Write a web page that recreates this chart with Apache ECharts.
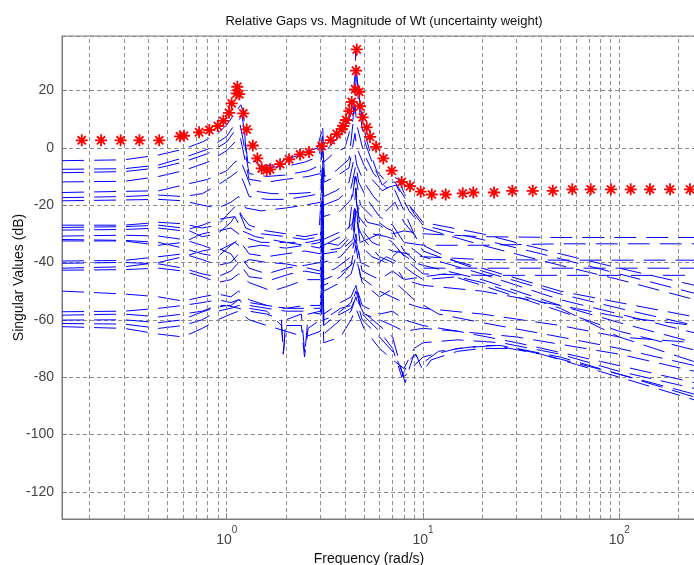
<!DOCTYPE html>
<html>
<head>
<meta charset="utf-8">
<script src="https://cdn.jsdelivr.net/npm/echarts@6/dist/echarts.min.js"></script>
<style>
html,body{margin:0;padding:0;background:#fff;}
#chart{width:694px;height:565px;}
</style>
</head>
<body>
<div id="chart"></div>
<script>
// ---------------- data ----------------
const titleText = 'Relative Gaps vs. Magnitude of Wt (uncertainty weight)';
const xLabelText = 'Frequency (rad/s)';
const yLabelText = 'Singular Values (dB)';

const gridFreqs = [0.2,0.3,0.4,0.5,0.6,0.7,0.8,0.9,1,2,3,4,5,6,7,8,9,10,20,30,40,50,60,70,80,90,100,200];

// red stars: relative gap magnitude of Wt
const starFreq = [0.1825,0.229,0.288,0.359,0.453,0.578,0.606,0.723,0.815,0.900,0.961,1.027,1.060,1.124,1.132,1.159,1.215,1.264,1.357,1.432,1.508,1.599,1.662,1.869,2.077,2.363,2.627,3.048,3.387,3.635,3.853,3.926,4.053,4.213,4.333,4.504,4.557,4.595,4.737,4.775,4.930,5.167,5.370,5.764,6.279,6.927,7.790,8.587,9.734,11.08,13.05,15.93,18.04,23.0,28.5,36.2,45.8,57.6,71.5,90.7,114.3,143.3,181.3,229.1];
const starDb = [2.6,2.6,2.6,2.6,2.6,4.0,4.2,5.4,6.2,7.6,9.4,12.2,15.5,19.0,21.3,18.7,12.0,6.4,0.8,-3.7,-7.2,-7.8,-7.5,-5.7,-4.0,-2.3,-1.5,0.6,2.7,4.8,6.5,7.6,9.7,12.8,16.0,20.4,26.9,34.3,19.5,14.5,10.6,7.1,3.8,0.35,-3.7,-8.0,-11.9,-13.4,-15.3,-16.3,-16.3,-15.9,-15.6,-15.6,-15.0,-15.0,-15.0,-14.5,-14.5,-14.5,-14.5,-14.5,-14.5,-14.5];

// blue singular value curves [frequency rad/s, dB]
const sv01 = [[0.145,-4.5],[0.3,-4.2],[0.45,-2.5],[0.6,-0.5],[0.75,2],[0.9,5],[1.0,8],[1.1,12],[1.18,15],[1.22,12],[1.25,-1],[1.3,-3],[1.5,-6.5],[1.7,-6],[2,-4],[2.5,-2],[2.9,0],[3.05,6],[3.08,8],[3.12,-2],[3.5,2],[4,6],[4.3,12],[4.5,25],[4.55,35],[4.62,24],[4.8,14],[5.1,4],[5.4,-2],[5.8,-8],[6.5,-12],[7.2,-12],[8,-17],[9,-23],[10,-27],[15,-30],[20,-32],[40,-37],[100,-44],[243,-50.8]];
const sv02 = [[0.145,-7.5],[0.3,-7.3],[0.45,-6],[0.6,-3.5],[0.8,-0.5],[1.0,4],[1.12,9],[1.2,11],[1.23,5],[1.28,-5],[1.5,-7],[2,-6.5],[2.5,-5],[2.95,-3],[3.07,4],[3.12,-5],[3.5,-2],[4,0],[4.4,10],[4.55,28],[4.7,15],[5,3],[5.5,-5],[6.2,-13],[7,-10],[7.5,-11],[8.5,-20],[10,-26],[20,-30],[50,-37],[100,-42],[243,-48]];
const sv03 = [[0.145,-8.7],[0.3,-8.3],[0.45,-7],[0.6,-5],[0.8,-2],[1.0,2],[1.1,6],[1.17,8],[1.21,3],[1.3,-9],[1.6,-10],[2,-9.5],[2.6,-8],[3.0,-6],[3.08,2],[3.15,-10],[3.6,-8],[4.2,-4],[4.5,15],[4.6,8],[5,-2],[5.6,-9],[6.5,-14],[7.3,-13],[8.5,-22],[10,-28],[20,-34],[50,-41],[100,-46],[243,-53]];
const sv04 = [[0.145,-11.9],[0.3,-11.7],[0.45,-10],[0.6,-8],[0.8,-5],[1.0,-1],[1.1,2],[1.17,4],[1.22,-2],[1.3,-11],[1.6,-12],[2,-11],[2.6,-10],[3.0,-9],[3.08,0],[3.13,-12],[3.6,-10],[4.2,-7],[4.5,5],[4.6,0],[5,-6],[5.5,-11],[6.2,-15],[7,-13],[8,-22],[9,-30],[10,-36],[12,-38],[20,-42],[50,-50],[100,-54],[243,-59]];
const sv05 = [[0.145,-15.6],[0.3,-15.2],[0.45,-15],[0.6,-13],[0.8,-11],[1.0,-8],[1.1,-5],[1.17,-4],[1.25,-9],[1.35,-15],[1.7,-16],[2.2,-16],[2.8,-15.5],[3.05,-14],[3.08,-4],[3.12,-17],[3.6,-15],[4.2,-12],[4.5,-2],[4.6,-6],[5,-12],[5.6,-17],[6.5,-22],[7.2,-19],[8,-26],[10,-34],[15,-40],[20,-43],[50,-51],[100,-56],[243,-62]];
const sv06 = [[0.145,-17.4],[0.3,-17],[0.45,-16.5],[0.6,-17],[0.75,-16],[0.9,-13],[1.05,-10],[1.15,-8],[1.22,-12],[1.3,-17],[1.6,-18],[2,-18],[2.5,-17],[3.0,-16],[3.08,-6],[3.12,-20],[3.7,-18],[4.3,-14],[4.55,-6],[4.7,-12],[5.2,-18],[6,-24],[7,-27],[8,-33],[10,-38],[20,-44],[50,-53],[100,-58],[243,-64.6]];
const sv07 = [[0.145,-18.5],[0.3,-18.2],[0.45,-18],[0.6,-18.5],[0.75,-20],[0.9,-21],[1.05,-19],[1.15,-17],[1.25,-21],[1.5,-22],[2,-21],[2.5,-20],[3,-19],[3.08,-10],[3.12,-24],[3.8,-22],[4.3,-18],[4.55,-10],[4.8,-20],[5.5,-24],[6.5,-28],[7,-29],[8,-36],[10,-42],[20,-42],[50,-42],[100,-42],[243,-42]];
const sv08 = [[0.145,-27],[0.3,-27],[0.45,-26],[0.6,-26.5],[0.75,-28],[0.9,-27],[1.05,-22],[1.12,-20],[1.2,-24],[1.3,-27],[1.6,-29],[2,-30],[2.5,-31],[2.95,-30],[3.06,-12],[3.1,-32],[3.6,-30],[4.2,-28],[4.5,-10],[4.6,-20],[5.2,-26],[6,-27],[7,-30],[8,-29],[10,-30],[20,-31],[50,-31.3],[100,-31.3],[243,-31.3]];
const sv09 = [[0.145,-27.8],[0.3,-27.5],[0.45,-27],[0.6,-28],[0.75,-31],[0.9,-30],[1.05,-26],[1.15,-22],[1.25,-28],[1.5,-30],[2,-31],[2.5,-32],[3.0,-31],[3.08,-20],[3.12,-34],[3.8,-31],[4.4,-26],[4.55,-14],[4.7,-24],[5.5,-30],[6.5,-31],[8,-33],[10,-34],[20,-34],[50,-33.5],[243,-33.5]];
const sv10 = [[0.145,-28.7],[0.3,-28.5],[0.45,-28],[0.6,-29],[0.75,-27],[0.9,-25],[1.1,-24],[1.2,-29],[1.4,-31],[2,-33],[2.6,-33],[3.0,-32],[3.08,-8],[3.12,-33],[3.7,-34],[4.3,-30],[4.55,-18],[4.8,-28],[5.5,-33],[7,-36],[10,-38],[20,-39],[50,-39.2],[243,-39.2]];
const sv11 = [[0.145,-30.8],[0.3,-30.5],[0.45,-30.8],[0.6,-32],[0.75,-34],[0.9,-36],[1.1,-33],[1.2,-35],[1.5,-34],[2,-35],[2.5,-34],[3.0,-33],[3.08,-15],[3.12,-36],[3.8,-35],[4.4,-30],[4.55,-20],[4.8,-33],[6,-30],[7,-33],[8.5,-40],[10,-44],[20,-44.5],[50,-44.5],[243,-44.5]];
const sv12 = [[0.145,-32],[0.3,-32.3],[0.45,-33],[0.6,-35],[0.75,-37],[0.9,-38],[1.05,-34],[1.15,-32],[1.3,-37],[1.6,-38],[2,-37],[2.5,-36],[3.0,-37],[3.08,-22],[3.12,-40],[3.8,-38],[4.4,-33],[4.55,-22],[4.8,-34],[5.5,-38],[6.5,-40],[7.5,-36],[9,-40],[10,-41],[20,-46],[50,-55],[100,-61],[243,-68]];
const sv13 = [[0.145,-32.5],[0.3,-32.5],[0.45,-34],[0.6,-33],[0.75,-30],[0.9,-29],[1.05,-28],[1.2,-31],[1.5,-33],[2,-33],[2.5,-34],[3,-35],[3.08,-25],[3.12,-37],[3.8,-36],[4.4,-32],[4.55,-26],[5,-32],[6,-38],[7,-40],[8,-46],[10,-45],[13,-44],[20,-48],[50,-57],[100,-64],[243,-70.6]];
const sv14 = [[0.145,-39.5],[0.3,-39.3],[0.45,-38],[0.6,-37],[0.75,-39],[0.9,-41],[1.05,-40],[1.15,-37],[1.3,-42],[1.6,-44],[2,-42],[2.5,-41],[3,-40],[3.08,-30],[3.12,-44],[3.6,-42],[4.3,-38],[4.55,-30],[4.8,-40],[5.5,-42],[6.5,-38],[7.5,-40],[9,-44],[10,-46],[15,-45],[20,-47],[50,-56],[100,-66],[243,-74.7]];
const sv15 = [[0.145,-40.3],[0.3,-40],[0.45,-40.5],[0.6,-42],[0.75,-44],[0.9,-45],[1.05,-43],[1.15,-40],[1.3,-45],[1.7,-46],[2.1,-44],[2.5,-43],[3,-44],[3.08,-35],[3.12,-48],[3.8,-45],[4.4,-40],[4.55,-34],[4.8,-45],[6,-50],[8,-54],[10,-56],[20,-58],[50,-62],[100,-66],[243,-68]];
const sv16 = [[0.145,-42],[0.3,-41.5],[0.45,-40],[0.6,-38],[0.75,-36],[0.9,-35],[1.05,-37],[1.15,-41],[1.3,-39],[1.6,-40],[2,-40.5],[2.6,-42],[3,-43],[3.08,-28],[3.12,-46],[3.7,-44],[4.3,-41],[4.55,-32],[4.9,-43],[6,-46],[7,-43],[8,-46],[10,-48],[20,-50],[50,-55],[100,-59],[243,-62]];
const sv17 = [[0.145,-42.7],[0.3,-42.5],[0.45,-42],[0.6,-43],[0.75,-45],[0.9,-47],[1.05,-46],[1.15,-44],[1.3,-47],[1.7,-50],[2.1,-48],[2.5,-46],[3,-46],[3.08,-38],[3.12,-50],[3.8,-47],[4.3,-44],[4.55,-38],[4.9,-47],[6,-52],[7.5,-48],[9,-53],[12,-58],[20,-61],[50,-66],[100,-70],[243,-76]];
const sv18 = [[0.145,-50],[0.3,-51],[0.45,-52],[0.6,-53.5],[0.75,-52],[0.9,-51],[1.05,-52],[1.15,-50],[1.3,-53],[1.6,-55],[2,-56],[2.5,-55],[3,-55],[3.08,-45],[3.12,-58],[3.8,-54],[4.3,-52],[4.55,-48],[4.9,-55],[6,-58],[7,-57],[8,-60],[10,-62],[15,-64],[30,-66],[100,-72],[243,-78]];
const sv19 = [[0.145,-57.2],[0.3,-57],[0.45,-56],[0.6,-55],[0.75,-54],[0.9,-53],[1.05,-54],[1.15,-53],[1.3,-56],[1.6,-57],[1.9,-62],[1.95,-71],[2.0,-60],[2.4,-58],[2.5,-72],[2.6,-58],[3,-57],[3.08,-40],[3.12,-60],[3.8,-56],[4.3,-55],[4.55,-50],[4.9,-57],[6,-62],[7,-66],[8.1,-82],[8.6,-76],[9,-72],[10,-75],[12,-71],[20,-69],[25,-69],[40,-72],[100,-79],[243,-86]];
const sv20 = [[0.145,-58.4],[0.3,-58],[0.45,-59],[0.6,-58],[0.75,-57],[0.9,-55],[1.05,-55],[1.15,-53],[1.3,-54],[1.6,-55],[2,-56],[2.5,-56],[3,-56],[3.08,-30],[3.12,-62],[3.8,-57],[4.3,-54],[4.55,-48],[4.9,-58],[6,-64],[7,-70],[7.8,-80],[8.5,-74],[9.2,-72],[10,-78],[11,-74],[15,-71],[20,-70],[30,-70],[50,-73],[100,-79],[243,-87]];
const sv21 = [[0.145,-60.1],[0.3,-60],[0.45,-61],[0.6,-60],[0.7,-58],[0.85,-56],[1.0,-55],[1.15,-56],[1.3,-57],[1.6,-58],[1.9,-60],[1.94,-72],[2.0,-62],[2.4,-62],[2.49,-73],[2.6,-63],[3,-60],[3.08,-45],[3.12,-65],[3.8,-60],[4.3,-57],[4.55,-52],[4.9,-60],[6,-66],[7.2,-72],[8,-80],[9,-76],[10,-73],[15,-70],[23,-69],[40,-72],[100,-80],[243,-88]];
const sv22 = [[0.145,-61.3],[0.3,-61.5],[0.45,-63],[0.6,-62],[0.75,-60],[0.9,-57],[1.05,-56],[1.15,-55],[1.3,-55],[1.6,-56],[2,-57],[2.5,-57],[3,-58],[3.08,-35],[3.12,-60],[3.8,-58],[4.3,-56],[4.55,-52],[5,-58],[6,-60],[7,-62],[8,-64],[10,-63],[15,-64],[30,-68],[100,-76],[243,-82]];
const sv23 = [[0.145,-62.4],[0.3,-63],[0.45,-65],[0.6,-66],[0.75,-63],[0.9,-60],[1.05,-58],[1.15,-57],[1.3,-60],[1.6,-62],[2,-64],[2.5,-66],[3,-64],[3.08,-50],[3.12,-68],[3.8,-66],[4.3,-60],[4.55,-56],[5,-63],[6,-70],[7,-74],[8,-77],[9,-70],[10,-68],[15,-67],[25,-68],[50,-72],[100,-78],[243,-84]];

const singularValueCurves = [sv01,sv02,sv03,sv04,sv05,sv06,sv07,sv08,sv09,sv10,sv11,sv12,sv13,sv14,sv15,sv16,sv17,sv18,sv19,sv20,sv21,sv22,sv23];

// ---------------- chart ----------------
const FONT = 'Liberation Sans, Arial, Helvetica, sans-serif';
const chart = echarts.init(document.getElementById('chart'), null, {renderer:'canvas'});

const series = [];
series.push({
  type:'line', data:[], silent:true, z:1,
  markLine:{
    silent:true, symbol:['none','none'], animation:false,
    label:{show:false},
    lineStyle:{color:'#8c8c8c', type:[4,3], width:1},
    data: gridFreqs.map(f => ({xAxis:f}))
  }
});
singularValueCurves.forEach(c => {
  series.push({
    type:'line', data:c, showSymbol:false, symbol:'none', silent:true, z:3,
    lineStyle:{color:'#0000ff', width:1, type:[22,10]}
  });
});
series.push({
  type:'scatter', z:5, silent:true,
  data: starFreq.map((f,i) => [f, starDb[i]]),
  symbol:'path://M5,0L5,10M0,5L10,5M1.6,1.6L8.4,8.4M8.4,1.6L1.6,8.4',
  symbolSize:12,
  itemStyle:{color:'#ff0000', borderColor:'#ff0000', borderWidth:1.8, opacity:1}
});

chart.setOption({
  animation:false,
  backgroundColor:'#ffffff',
  title:[
    {text:titleText, left:379, top:10, textAlign:'center',
     textStyle:{fontFamily:FONT, fontSize:13, fontWeight:'normal', color:'#111'}},
    {text:xLabelText, left:364, top:547, textAlign:'center',
     textStyle:{fontFamily:FONT, fontSize:14, fontWeight:'normal', color:'#111'}}
  ],
  grid:{left:62, top:36, right:-1, bottom:46, show:true, borderColor:'#7a7a7a', borderWidth:1,
        backgroundColor:'#fff', containLabel:false, outerBoundsMode:'none'},
  xAxis:{
    type:'log', logBase:10, min:0.1448, max:243,
    axisLine:{show:true, onZero:false, lineStyle:{color:'#7a7a7a'}},
    axisTick:{show:true, inside:true, length:6, lineStyle:{color:'#7a7a7a'}},
    splitLine:{show:false},
    axisLabel:{
      showMinLabel:false, showMaxLabel:false, margin:6,
      formatter: v => '{b|10}{s|' + Math.round(Math.log10(v)) + '}',
      rich:{
        b:{fontFamily:FONT, fontSize:14, color:'#444', verticalAlign:'bottom', lineHeight:22},
        s:{fontFamily:FONT, fontSize:10, color:'#444', verticalAlign:'top', lineHeight:22}
      }
    }
  },
  yAxis:{
    type:'value', min:-129.5, max:39.0, splitNumber:8,
    name:yLabelText, nameLocation:'middle', nameGap:36, nameRotate:90, nameMoveOverlap:false,
    nameTextStyle:{fontFamily:FONT, fontSize:14, color:'#111'},
    axisLine:{show:true, lineStyle:{color:'#7a7a7a'}},
    axisTick:{show:true, inside:true, length:5, lineStyle:{color:'#7a7a7a'}},
    splitLine:{show:true, lineStyle:{color:'#8c8c8c', type:[4,3], width:1}},
    axisLabel:{showMinLabel:false, showMaxLabel:false, margin:8,
      fontFamily:FONT, fontSize:14, color:'#444'}
  },
  series: series
});
</script>
</body>
</html>
